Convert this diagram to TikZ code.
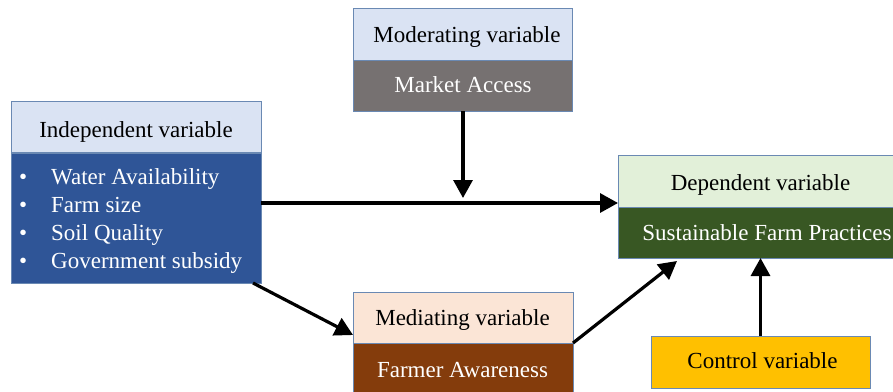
\documentclass[tikz,border=0pt]{standalone}
\usepackage{fontspec}
\setmainfont{Liberation Serif}
\usetikzlibrary{arrows.meta,calc}
\definecolor{hdrblue}{HTML}{DAE3F3}
\definecolor{indepbody}{HTML}{2F5597}
\definecolor{modbody}{HTML}{767171}
\definecolor{dephdr}{HTML}{E2F0D9}
\definecolor{depbody}{HTML}{385723}
\definecolor{medhdr}{HTML}{FBE5D6}
\definecolor{medbody}{HTML}{843C0C}
\definecolor{ctrlfill}{HTML}{FFC000}
\definecolor{boxborder}{HTML}{6A89B3}
\tikzset{
  box/.style={draw=boxborder, line width=0.9pt, rectangle, inner sep=0pt, outer sep=0pt},
  lbl/.style={inner sep=0pt, anchor=base, font=\fontsize{23}{27}\selectfont},
  dark/.style={lbl, text=black},
  light/.style={lbl, text=white},
  item/.style={inner sep=0pt, anchor=base west, text=white, font=\fontsize{23}{27}\selectfont},
  arr/.style={line width=3.2pt, -{Triangle[length=18pt,width=19pt]}},
}
\begin{document}
\begin{tikzpicture}[x=1pt,y=-1pt]
\useasboundingbox (0,0) rectangle (893,391);
% Independent
\node[box, fill=hdrblue, minimum width=250, minimum height=51] (indepH) at (136,126.5) {};
\node[box, fill=indepbody, minimum width=250, minimum height=130] (indepB) at (136,218) {};
\node[dark] (indepT) at (136,137) {Independent variable};
\node[item] (b1) at (19,184) {•};
\node[item] (b2) at (19,212) {•};
\node[item] (b3) at (19,240) {•};
\node[item] (b4) at (19,268) {•};
\node[item] (i1) at (51,184) {Water Availability};
\node[item] (i2) at (51,212) {Farm size};
\node[item] (i3) at (51,240) {Soil Quality};
\node[item] (i4) at (51,268) {Government subsidy};
% Moderating
\node[box, fill=hdrblue, minimum width=219, minimum height=52] (modH) at (463,34) {};
\node[box, fill=modbody, minimum width=219, minimum height=51] (modB) at (463,85.5) {};
\node[dark] (modT) at (467,42) {Moderating variable};
\node[light] (modV) at (463,92) {Market Access};
% Dependent
\node[box, fill=dephdr, minimum width=298, minimum height=52] (depH) at (767,181) {};
\node[box, fill=depbody, minimum width=298, minimum height=51] (depB) at (767,232.5) {};
\node[dark] (depT) at (760.5,190) {Dependent variable};
\node[light] (depV) at (767,240) {Sustainable Farm Practices};
% Mediating
\node[box, fill=medhdr, minimum width=220, minimum height=51] (medH) at (463,317.5) {};
\node[box, fill=medbody, minimum width=220, minimum height=52] (medB) at (463,369) {};
\node[dark] (medT) at (462.5,325) {Mediating variable};
\node[light] (medV) at (462.5,377) {Farmer Awareness};
% Control
\node[box, fill=ctrlfill, minimum width=219, minimum height=52] (ctrl) at (760.5,362) {};
\node[dark] (ctrlT) at (762.5,368) {Control variable};
% Connectors
\coordinate (mid) at (463,203);
\draw[arr] (indepB.east |- mid) -- (depH.west |- mid);
\draw[arr, shorten >=5pt] (modB.south) -- (modB.south |- mid);
\draw[arr] ($(indepB.south east)+(-8,0)$) -- ($(medH.south west)+(0,-8)$);
\draw[arr] (medH.south east) -- ($(depB.south west)+(59,3)$);
\draw[arr] (ctrl.north) -- (ctrl.north |- depB.south);
\end{tikzpicture}
\end{document}
